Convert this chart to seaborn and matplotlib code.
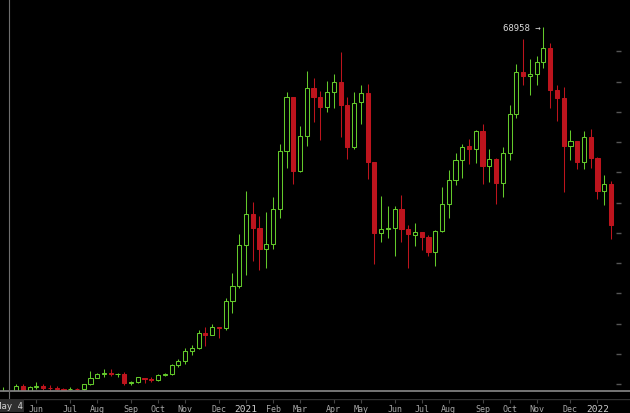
import numpy as np
import pandas as pd
import matplotlib
matplotlib.use("Agg")
import matplotlib.pyplot as plt
import seaborn as sns

# weekly BTC candles, first week starts Monday 2020-04-27
week_start = "2020-04-27"
opens = [7700, 8900, 8720, 9680, 8900, 9460, 9700, 9400, 9350, 9200,
         9100, 9250, 9150, 9930, 11050, 11680, 11900, 11650, 11700, 10250,
         10330, 11000, 10850, 10680, 11500, 11620, 13100, 13880, 15480, 15960,
         18400, 18180, 19370, 19270, 23780, 26250, 32950, 38150, 35850, 32300,
         33100, 38850, 48580, 57400, 45150, 50980, 59000, 57400, 55800, 58200,
         59900, 56150, 49100, 56550, 58150, 46650, 34950, 35600, 35780, 39000,
         35650, 34700, 35100, 34250, 31850, 35350, 39700, 43800, 47050, 49300,
         48850, 51800, 46100, 47250, 43200, 48200, 54700, 61500, 60900, 61300,
         63250, 65500, 58650, 57300, 49400, 50100, 46700, 50800, 47300, 41900,
         43050]
highs = [9460, 10070, 9950, 9950, 9750, 10380, 9990, 9800, 9700, 9380,
         9450, 9350, 10050, 12100, 11900, 12450, 12470, 11800, 12060, 10500,
         11100, 11050, 11100, 11720, 11900, 13350, 14100, 15960, 16480, 18950,
         19500, 19920, 19420, 24300, 28400, 34800, 41950, 40100, 37850, 38500,
         40950, 49700, 58350, 57500, 52600, 61700, 60600, 58500, 60100, 61300,
         64850, 57500, 58350, 59450, 59600, 46700, 41000, 39500, 39400, 41200,
         36250, 36600, 35200, 34700, 35450, 42550, 45300, 48150, 49700, 50500,
         51950, 52900, 48850, 47350, 49150, 56200, 62900, 67000, 63700, 64300,
         68958, 66300, 59400, 59100, 51950, 50200, 51850, 52100, 47600, 44500,
         43550]
lows = [7650, 8120, 8200, 8800, 8630, 9250, 9000, 8900, 8950, 8900,
        9050, 9000, 9050, 9900, 10940, 11130, 11300, 11150, 9880, 9880,
        10200, 10140, 10400, 10520, 11250, 11450, 12800, 13250, 14860, 15790,
        16330, 18110, 17650, 19000, 21800, 25900, 28100, 30400, 28850, 29250,
        32300, 37450, 45700, 43000, 45000, 49300, 53300, 50400, 54900, 55600,
        50800, 47200, 48800, 52900, 43900, 29800, 33500, 34200, 31150, 33450,
        29200, 32750, 32100, 31100, 29450, 35200, 37400, 42850, 44000, 46350,
        46600, 43100, 43450, 39700, 40850, 47000, 53900, 59500, 57800, 59450,
        62300, 55600, 53550, 41800, 47000, 45550, 45550, 45700, 40550, 39650,
        34000]
closes = [8900, 8720, 9680, 8900, 9460, 9620, 9300, 9300, 9250, 9080,
          9250, 9150, 9950, 11050, 11680, 11900, 11650, 11700, 10250, 10330,
          11080, 10780, 10700, 11500, 11650, 13150, 13880, 15480, 15960, 18400,
          18180, 19370, 19270, 23780, 26250, 32950, 38150, 35850, 32300, 33100,
          38850, 48580, 57400, 45150, 50980, 59000, 57400, 55800, 58200, 59900,
          56150, 49100, 56450, 58150, 46650, 34950, 35600, 35780, 39000, 35650,
          34800, 35100, 34250, 31850, 35350, 39700, 43800, 47050, 49200, 48850,
          51800, 46100, 47250, 43200, 48200, 54700, 61500, 60900, 61300, 63250,
          65500, 58650, 57300, 49400, 50100, 46700, 50800, 47300, 41900, 43050,
          36300]
peak_label = 68958
price_ticks = list(range(10000, 70000, 5000))
crosshair_week = 1   # the "May 4" candle

green = "#63c92b"
red = "#bd141d"

dates = pd.date_range(week_start, periods=len(opens), freq="W-MON")
df = pd.DataFrame({"date": dates, "open": opens, "high": highs,
                   "low": lows, "close": closes})
df["i"] = np.arange(len(df))
df["up"] = df["close"] >= df["open"]
up = df[df["up"]]
dn = df[~df["up"]]

sns.set_style("dark", {"axes.facecolor": "black", "figure.facecolor": "black"})
plt.rcParams["font.family"] = ["DejaVu Sans Mono", "DejaVu Sans"]

fig = plt.figure(figsize=(6.3, 4.14), dpi=100)
ax = fig.add_axes([0, 14.5 / 414, 1, 399.5 / 414])
ax.set_facecolor("black")
ax.grid(False)

# wicks
ax.vlines(df["i"], df["low"], df["high"],
          colors=np.where(df["up"], green, red), linewidth=0.75, zorder=2)
# bodies: hollow green up, filled red down
ax.bar(up["i"], up["close"] - up["open"], bottom=up["open"], width=0.62,
       color="black", edgecolor=green, linewidth=0.75, zorder=3)
ax.bar(dn["i"], dn["open"] - dn["close"], bottom=dn["close"], width=0.62,
       color=red, edgecolor=red, linewidth=0.75, zorder=3)

y_lo, y_hi = 7607, 73645
clip_price = 8765
ax.set_xlim(-0.385, 92.81)
ax.set_ylim(y_lo, y_hi)

# pane bottom / crosshair
ax.axhspan(y_lo, clip_price, color="black", zorder=5)
ax.axhline(clip_price, color="#8a8a8a", linewidth=1.2, zorder=6)
ax.axvline(crosshair_week, ymin=-0.011, ymax=1, color="#6e6e6e",
           linewidth=0.8, clip_on=False, zorder=6)

# price scale ticks (labels are off the picture)
ax.hlines(price_ticks, 0.978, 0.986, transform=ax.get_yaxis_transform(),
          colors="#555555", linewidth=1, zorder=4)

# peak marker
ax.text(79.65, peak_label, f"{peak_label} →", ha="right", va="center",
        color="#d8d8d8", fontsize=6.5, zorder=7)

# time axis: first candle of each month
months = df["date"].dt.month
first = df[(months != months.shift()) & (df["i"] > crosshair_week)]
tick_idx = first["i"].tolist()
tick_labels = [str(d.year) if d.month == 1 else d.strftime("%b") for d in first["date"]]
ax.set_xticks(tick_idx)
ax.set_xticklabels(tick_labels)
ax.set_yticks([])
ax.tick_params(axis="x", bottom=True, direction="out", length=3, width=0.8,
               color="#444444", pad=1, labelsize=6, labelcolor="#a8a8a8")
for lab in ax.get_xticklabels():
    if lab.get_text().isdigit():
        lab.set_color("#cfcfcf")
        lab.set_fontsize(6.8)

for side in ["top", "left", "right"]:
    ax.spines[side].set_visible(False)
ax.spines["bottom"].set_color("#333333")
ax.spines["bottom"].set_linewidth(1)

cross_date = df["date"][crosshair_week]
ax.text(crosshair_week, -0.0175, cross_date.strftime("%b ") + str(cross_date.day),
        transform=ax.get_xaxis_transform(), ha="center", va="center",
        fontsize=6.5, color="#d0d0d0", clip_on=False, zorder=8,
        bbox=dict(facecolor="#2e2e2e", edgecolor="none", pad=1.2))

fig.savefig("out.png", dpi=100, facecolor="black")
